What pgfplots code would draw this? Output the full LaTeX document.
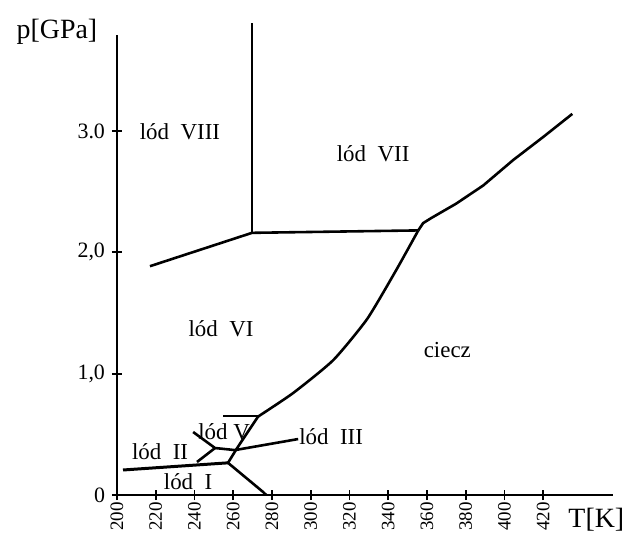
\documentclass[border=0pt]{standalone}
\usepackage{fontspec}
\setmainfont{Liberation Serif}
\usepackage{pgfplots}
\pgfplotsset{compat=1.18}
\tikzset{region/.style={font=\fontsize{11.5}{12}\selectfont}}
\begin{document}
\begin{tikzpicture}
\begin{axis}[
  scale only axis, width=248bp, height=230bp,
  xmin=200, xmax=456, ymin=0, ymax=3.79,
  axis lines=left,
  axis line style={-, line width=1.2pt},
  every inner x axis line/.append style={-},
  every inner y axis line/.append style={-},
  clip=false,
  xtick={200,220,240,260,280,300,320,340,360,380,400,420},
  xticklabels={200,220,240,260,280,300,320,340,360,380,400,420},
  ytick={0,1,2,3},
  yticklabels={0,{1,0},{2,0},3.0},
  tick align=center, major tick length=5bp,
  tick style={line width=1pt, black},
  ticklabel style={font=\fontsize{11}{11}\selectfont},
  x tick label style={rotate=90, anchor=east, font=\fontsize{9.5}{10}\selectfont, inner sep=1bp},
]
% granice faz
\addplot[line width=1.3pt] coordinates {(269.7,2.16) (269.7,3.89)};
\addplot[line width=1.3pt] coordinates {(217,1.885) (269.7,2.16) (355.5,2.18)};
\addplot[line width=1.3pt, smooth, tension=0.35] coordinates {(272.8,0.646) (290.9,0.840) (311.6,1.111) (329.1,1.450) (344,1.85) (355.5,2.18)};
\addplot[line width=1.3pt] coordinates {(355.5,2.18) (358,2.24) (362,2.28) (375,2.40) (389,2.55) (404.5,2.76) (420,2.95) (435,3.14)};
\addplot[line width=1.3pt] coordinates {(257.3,0.265) (262,0.387) (272.8,0.646)};
\addplot[line width=1.3pt] coordinates {(254.8,0.650) (272.8,0.650)};
\addplot[line width=1.3pt] coordinates {(239.3,0.519) (250.6,0.387) (260.9,0.370) (293.5,0.461)};
\addplot[line width=1.3pt] coordinates {(250.6,0.387) (241.3,0.272)};
\addplot[line width=1.5pt] coordinates {(203.1,0.206) (257.3,0.265)};
\addplot[line width=1.3pt] coordinates {(257.3,0.265) (275.4,0.025) (277,0)};
% opisy
\node[region] at (axis cs:232.5,2.99) {lód\ \ VIII};
\node[region] at (axis cs:332.2,2.815) {lód\ \ VII};
\node[region] at (axis cs:253.7,1.374) {lód\ \ VI};
\node[region] at (axis cs:370.5,1.193) {ciecz};
\node[region] at (axis cs:222.2,0.354) {lód\ \ II};
\node[region] at (axis cs:236.7,0.107) {lód\ \ I};
\node[region] at (axis cs:255.3,0.519) {lód V};
\node[region] at (axis cs:310.5,0.477) {lód\ \ III};
\node[font=\fontsize{14}{14}\selectfont] at (axis cs:169,3.82) {p[GPa]};
\node[font=\fontsize{14}{14}\selectfont] at (axis cs:447.4,-0.206) {T[K]};
\end{axis}
\pgfresetboundingbox
\path (-58.5bp,-20.5bp) rectangle (259.5bp,247.5bp);
\end{tikzpicture}
\end{document}
